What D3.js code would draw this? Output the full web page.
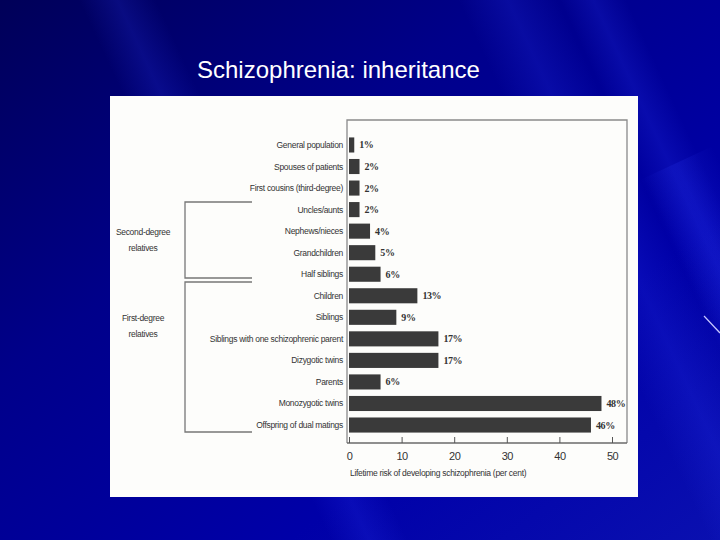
<!DOCTYPE html>
<html>
<head>
<meta charset="utf-8">
<script src="https://cdn.jsdelivr.net/npm/d3@7"></script>
<style>
  html, body { margin: 0; padding: 0; background: #00008a; }
  svg { display: block; }
</style>
</head>
<body>
<svg id="chart" width="720" height="540"></svg>
<script>
const categories = [
  "General population",
  "Spouses of patients",
  "First cousins (third-degree)",
  "Uncles/aunts",
  "Nephews/nieces",
  "Grandchildren",
  "Half siblings",
  "Children",
  "Siblings",
  "Siblings with one schizophrenic parent",
  "Dizygotic twins",
  "Parents",
  "Monozygotic twins",
  "Offspring of dual matings"
];
const risks = [1, 2, 2, 2, 4, 5, 6, 13, 9, 17, 17, 6, 48, 46];
const valueLabels = ["1%", "2%", "2%", "2%", "4%", "5%", "6%", "13%", "9%", "17%", "17%", "6%", "48%", "46%"];
const xTicks = [0, 10, 20, 30, 40, 50];
const groups = [
  { name: ["Second-degree", "relatives"], first: "Uncles/aunts", last: "Half siblings", labelAt: "Grandchildren" },
  { name: ["First-degree", "relatives"], first: "Children", last: "Offspring of dual matings", labelAt: "Siblings with one schizophrenic parent" }
];
const title = "Schizophrenia: inheritance";
const xTitle = "Lifetime risk of developing schizophrenia (per cent)";

const svg = d3.select("#chart");
const labelFont = "Liberation Sans Narrow, Arial Narrow, Liberation Sans, Arial, sans-serif";

// background
const defs = svg.append("defs");
const bg = defs.append("linearGradient").attr("id", "bg")
  .attr("x1", "0").attr("y1", "0").attr("x2", "1").attr("y2", "1");
bg.append("stop").attr("offset", "0").attr("stop-color", "#000058");
bg.append("stop").attr("offset", "0.35").attr("stop-color", "#00008a");
bg.append("stop").attr("offset", "0.7").attr("stop-color", "#0000a8");
bg.append("stop").attr("offset", "1").attr("stop-color", "#0a10b0");
svg.append("rect").attr("width", 720).attr("height", 540).attr("fill", "url(#bg)");
const streak = defs.append("linearGradient").attr("id", "streak")
  .attr("x1", "0").attr("y1", "0").attr("x2", "1").attr("y2", "0");
streak.append("stop").attr("offset", "0").attr("stop-color", "#3040ff").attr("stop-opacity", 0);
streak.append("stop").attr("offset", "0.5").attr("stop-color", "#3040ff").attr("stop-opacity", 0.18);
streak.append("stop").attr("offset", "1").attr("stop-color", "#3040ff").attr("stop-opacity", 0);
[[60, -40, 70], [430, -60, 90], [560, 0, 60], [640, 180, 80]].forEach(([sx, sy, w]) => {
  svg.append("rect").attr("x", sx).attr("y", sy).attr("width", w).attr("height", 700)
    .attr("fill", "url(#streak)").attr("transform", `rotate(-25 ${sx} ${sy})`);
});
svg.append("line").attr("x1", 704).attr("y1", 316).attr("x2", 720).attr("y2", 333)
  .attr("stroke", "#c8c8ff").attr("stroke-width", 1.2);

// title
svg.append("text").attr("x", 197).attr("y", 78)
  .attr("font-family", "Liberation Sans, Arial, sans-serif").attr("font-size", 24)
  .attr("fill", "#ffffff").text(title);

// white panel
svg.append("rect").attr("x", 110).attr("y", 96).attr("width", 528).attr("height", 401)
  .attr("fill", "#fdfdfb");

const x = d3.scaleLinear().domain([0, 50]).range([349, 612]);
const y = d3.scaleBand().domain(categories).range([134.2, 435.8])
  .paddingInner(0.3).paddingOuter(0.15);

const frameTop = 120, frameBottom = 443, frameLeft = 347, frameRight = 627;

// frame
svg.append("path")
  .attr("d", `M${frameLeft},${frameBottom} L${frameLeft},${frameTop} L${frameRight},${frameTop} L${frameRight},${frameBottom}`)
  .attr("fill", "none").attr("stroke", "#8a8a8a").attr("stroke-width", 1.3);

// bars
svg.append("g").selectAll("rect").data(categories).join("rect")
  .attr("x", x(0))
  .attr("y", d => y(d))
  .attr("width", (d, i) => x(risks[i]) - x(0))
  .attr("height", y.bandwidth())
  .attr("fill", "#3a3a3a");

// value labels
svg.append("g").selectAll("text").data(categories).join("text")
  .attr("x", (d, i) => x(risks[i]) + 5)
  .attr("y", d => y(d) + y.bandwidth() / 2 + 3.5)
  .attr("font-family", "Liberation Serif, serif").attr("font-size", 10)
  .attr("font-weight", "bold").attr("letter-spacing", -0.4).attr("fill", "#333")
  .text((d, i) => valueLabels[i]);

// category labels
svg.append("g").selectAll("text").data(categories).join("text")
  .attr("x", 343)
  .attr("y", d => y(d) + y.bandwidth() / 2 + 3)
  .attr("text-anchor", "end")
  .attr("font-family", labelFont).attr("font-size", 8.5).attr("letter-spacing", -0.3)
  .attr("fill", "#333")
  .text(d => d);

// x axis
const xAxis = d3.axisBottom(x).tickValues(xTicks).tickSize(-6).tickPadding(9).tickFormat(d3.format("d"));
const gx = svg.append("g").attr("transform", `translate(0,${frameBottom})`).call(xAxis);
gx.select(".domain").attr("stroke", "#6a6a6a").attr("stroke-width", 1.3)
  .attr("d", `M${frameLeft},0H${frameRight}`);
gx.selectAll(".tick line").attr("stroke", "#555");
gx.selectAll(".tick text").attr("font-family", labelFont)
  .attr("font-size", 11).attr("letter-spacing", -0.5).attr("fill", "#333");

svg.append("text").attr("x", 350).attr("y", 476)
  .attr("font-family", labelFont).attr("font-size", 8.5).attr("letter-spacing", -0.3)
  .attr("fill", "#333").text(xTitle);

// group brackets
const bx0 = 185, bx1 = 252;
const gTop = [202, 282], gBot = [278, 432];
groups.forEach((g, i) => {
  const t = gTop[i], b = gBot[i];
  svg.append("path")
    .attr("d", `M${bx1},${t} H${bx0} V${b} H${bx1}`)
    .attr("fill", "none").attr("stroke", "#777").attr("stroke-width", 1.3);
  const first = y(g.labelAt) + y.bandwidth() / 2 - 18;
  svg.append("g").selectAll("text").data(g.name).join("text")
    .attr("x", 143).attr("y", (d, j) => first + j * 16)
    .attr("text-anchor", "middle")
    .attr("font-family", labelFont).attr("font-size", 8.5).attr("letter-spacing", -0.3)
    .attr("fill", "#333").text(d => d);
});
</script>
</body>
</html>
